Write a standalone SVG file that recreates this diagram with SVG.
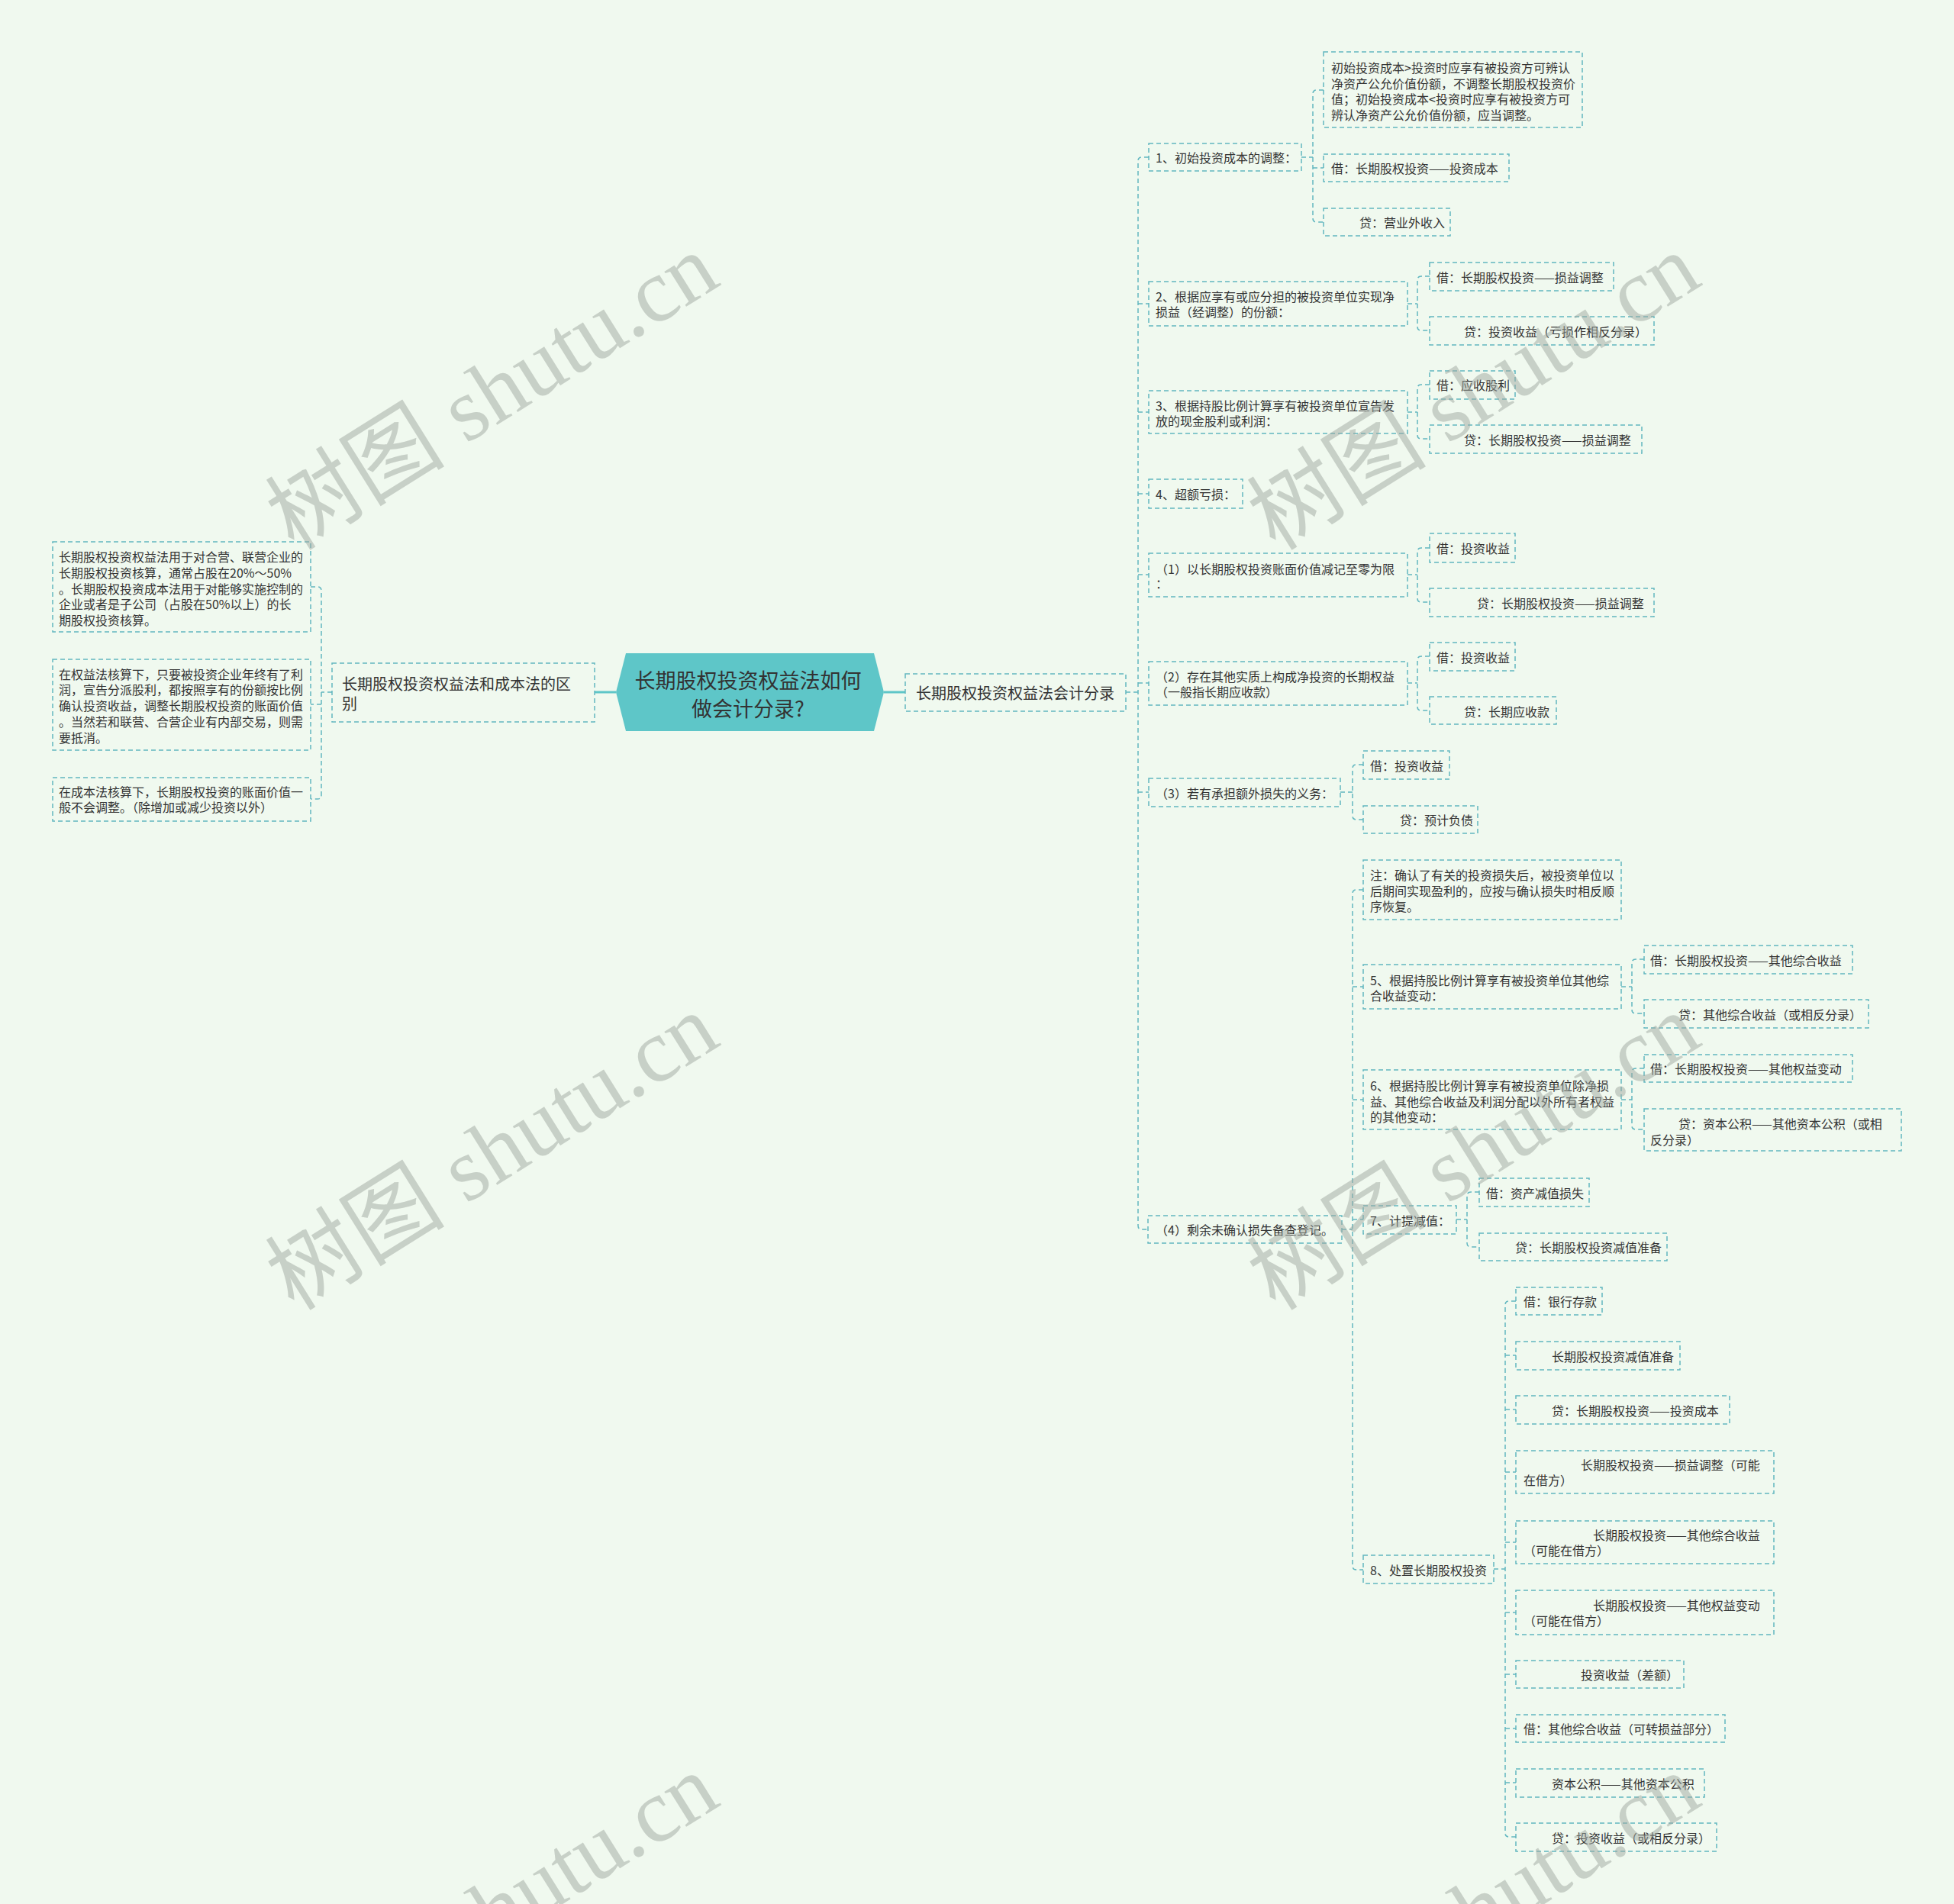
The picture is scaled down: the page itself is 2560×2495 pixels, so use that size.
<svg xmlns="http://www.w3.org/2000/svg" width="2560" height="2495" viewBox="0 0 2560 2495">
<style>
.box{fill:none;stroke:#62b7c0;stroke-width:1.5;stroke-dasharray:6 4}
.conn{fill:none;stroke:#62b7c0;stroke-width:1.5;stroke-dasharray:6 4}
.solid{fill:none;stroke:#5ec6c8;stroke-width:3}
.t{font-family:"Noto Sans CJK SC","Noto Sans",sans-serif;font-size:16px;fill:#333;dominant-baseline:central}
.t20{font-family:"Noto Sans CJK SC","Noto Sans",sans-serif;font-size:20px;fill:#333;dominant-baseline:central}
.root{font-family:"Noto Sans CJK SC","Noto Sans",sans-serif;font-size:27px;fill:#333;dominant-baseline:central;text-anchor:middle}
.wm{font-family:"Liberation Serif","Noto Sans CJK SC",serif;font-size:118px;fill:#a0a8a0;opacity:0.5;text-anchor:middle;dominant-baseline:central}
</style>
<rect x="0" y="0" width="2560" height="2495" fill="#f0f9ef"/>

<g id="connectors">
<path class="solid" d="M779,907 H807 M1158,907 H1186"/>
<path class="conn" d="M435,907 H421 M407,769 H416 Q421,769 421,774 V1042 Q421,1047 416,1047 H407 M421,923 H407"/>
<path class="conn" d="M1475,907 H1491 M1505,206 H1496 Q1491,206 1491,211 V1606 Q1491,1611 1496,1611 H1504 M1491,398 H1505 M1491,540 H1505 M1491,647 H1505 M1491,753 H1505 M1491,895 H1505 M1491,1038 H1505"/>
<path class="conn" d="M1705,206 H1720 M1734,118 H1725 Q1720,118 1720,123 V286 Q1720,291 1725,291 H1734 M1720,220 H1734"/>
<path class="conn" d="M1844,398 H1857 M1873,362 H1862 Q1857,362 1857,367 V428 Q1857,433 1862,433 H1873"/>
<path class="conn" d="M1844,540 H1857 M1873,504 H1862 Q1857,504 1857,509 V570 Q1857,575 1862,575 H1873"/>
<path class="conn" d="M1844,753 H1857 M1873,718 H1862 Q1857,718 1857,723 V784 Q1857,789 1862,789 H1873"/>
<path class="conn" d="M1844,895 H1857 M1873,860 H1862 Q1857,860 1857,865 V926 Q1857,931 1862,931 H1873"/>
<path class="conn" d="M1756,1038 H1772 M1786,1002 H1777 Q1772,1002 1772,1007 V1069 Q1772,1074 1777,1074 H1786"/>
<path class="conn" d="M1758,1611 H1772 M1786,1166 H1777 Q1772,1166 1772,1171 V2052 Q1772,2057 1777,2057 H1786 M1772,1293 H1786 M1772,1441 H1786 M1772,1598 H1786"/>
<path class="conn" d="M2124,1293 H2138 M2154,1257 H2143 Q2138,1257 2138,1262 V1323 Q2138,1328 2143,1328 H2154"/>
<path class="conn" d="M2124,1441 H2138 M2154,1400 H2143 Q2138,1400 2138,1405 V1475 Q2138,1480 2143,1480 H2154"/>
<path class="conn" d="M1908,1598 H1922 M1938,1562 H1927 Q1922,1562 1922,1567 V1629 Q1922,1634 1927,1634 H1938"/>
<path class="conn" d="M1957,2056 H1972 M1986,1705 H1977 Q1972,1705 1972,1710 V2402 Q1972,2407 1977,2407 H1986 M1972,1776 H1986 M1972,1847 H1986 M1972,1929 H1986 M1972,2021 H1986 M1972,2113 H1986 M1972,2194 H1986 M1972,2265 H1986 M1972,2336 H1986"/>
</g>

<g id="root">
<polygon points="807,907 820,856 1145,856 1158,907 1145,958 820,958" fill="#5ec6c8"/>
<text class="root" x="980" y="890">长期股权投资权益法如何</text>
<text class="root" x="980" y="927">做会计分录?</text>
</g>

<g id="b-left">
<rect class="box" x="435" y="869" width="344" height="77"/>
<text class="t20" x="448" y="895">长期股权投资权益法和成本法的区</text>
<text class="t20" x="448" y="921">别</text>
</g>
<g id="b-right">
<rect class="box" x="1186" y="883" width="289" height="49"/>
<text class="t20" x="1200" y="907">长期股权投资权益法会计分录</text>
</g>

<g id="ll1">
<rect class="box" x="69" y="710" width="338" height="118"/>
<text class="t" x="77" y="729">长期股权投资权益法用于对合营、联营企业的</text>
<text class="t" x="77" y="750">长期股权投资核算，通常占股在20%～50%</text>
<text class="t" x="77" y="771">。长期股权投资成本法用于对能够实施控制的</text>
<text class="t" x="77" y="791">企业或者是子公司（占股在50%以上）的长</text>
<text class="t" x="77" y="812">期股权投资核算。</text>
</g>
<g id="ll2">
<rect class="box" x="69" y="864" width="338" height="119"/>
<text class="t" x="77" y="883">在权益法核算下，只要被投资企业年终有了利</text>
<text class="t" x="77" y="903">润，宣告分派股利，都按照享有的份额按比例</text>
<text class="t" x="77" y="924">确认投资收益，调整长期股权投资的账面价值</text>
<text class="t" x="77" y="945">。当然若和联营、合营企业有内部交易，则需</text>
<text class="t" x="77" y="966">要抵消。</text>
</g>
<g id="ll3">
<rect class="box" x="69" y="1019" width="338" height="57"/>
<text class="t" x="77" y="1037">在成本法核算下，长期股权投资的账面价值一</text>
<text class="t" x="77" y="1057">般不会调整。（除增加或减少投资以外）</text>
</g>

<g id="r1">
<rect class="box" x="1505" y="188" width="200" height="36"/>
<text class="t" x="1514" y="206">1、初始投资成本的调整：</text>
</g>
<g id="r1a">
<rect class="box" x="1734" y="68" width="339" height="99"/>
<text class="t" x="1744" y="88">初始投资成本&gt;投资时应享有被投资方可辨认</text>
<text class="t" x="1744" y="108.5">净资产公允价值份额，不调整长期股权投资价</text>
<text class="t" x="1744" y="129">值；初始投资成本&lt;投资时应享有被投资方可</text>
<text class="t" x="1744" y="149.5">辨认净资产公允价值份额，应当调整。</text>
</g>
<g id="r1b">
<rect class="box" x="1734" y="202" width="243" height="36"/>
<text class="t" x="1744" y="220">借：长期股权投资——投资成本</text>
</g>
<g id="r1c">
<rect class="box" x="1734" y="273" width="166" height="36"/>
<text class="t" x="1781" y="291">贷：营业外收入</text>
</g>

<g id="r2">
<rect class="box" x="1505" y="369" width="339" height="58"/>
<text class="t" x="1514" y="388">2、根据应享有或应分担的被投资单位实现净</text>
<text class="t" x="1514" y="408">损益（经调整）的份额：</text>
</g>
<g id="r2a">
<rect class="box" x="1873" y="344" width="241" height="37"/>
<text class="t" x="1882" y="363">借：长期股权投资——损益调整</text>
</g>
<g id="r2b">
<rect class="box" x="1873" y="415" width="294" height="37"/>
<text class="t" x="1918" y="434">贷：投资收益（亏损作相反分录）</text>
</g>

<g id="r3">
<rect class="box" x="1505" y="512" width="339" height="56"/>
<text class="t" x="1514" y="531">3、根据持股比例计算享有被投资单位宣告发</text>
<text class="t" x="1514" y="551">放的现金股利或利润：</text>
</g>
<g id="r3a">
<rect class="box" x="1873" y="486" width="112" height="37"/>
<text class="t" x="1882" y="504">借：应收股利</text>
</g>
<g id="r3b">
<rect class="box" x="1873" y="557" width="278" height="37"/>
<text class="t" x="1918" y="576">贷：长期股权投资——损益调整</text>
</g>

<g id="r4">
<rect class="box" x="1505" y="628" width="123" height="38"/>
<text class="t" x="1514" y="647">4、超额亏损：</text>
</g>

<g id="r5">
<rect class="box" x="1505" y="725" width="339" height="57"/>
<text class="t" x="1514" y="745">（1）以长期股权投资账面价值减记至零为限</text>
<text class="t" x="1514" y="764">：</text>
</g>
<g id="r5a">
<rect class="box" x="1873" y="699" width="112" height="38"/>
<text class="t" x="1882" y="718">借：投资收益</text>
</g>
<g id="r5b">
<rect class="box" x="1873" y="771" width="294" height="37"/>
<text class="t" x="1935" y="790">贷：长期股权投资——损益调整</text>
</g>

<g id="r6">
<rect class="box" x="1505" y="867" width="339" height="57"/>
<text class="t" x="1514" y="886">（2）存在其他实质上构成净投资的长期权益</text>
<text class="t" x="1514" y="906">（一般指长期应收款）</text>
</g>
<g id="r6a">
<rect class="box" x="1873" y="842" width="112" height="37"/>
<text class="t" x="1882" y="861">借：投资收益</text>
</g>
<g id="r6b">
<rect class="box" x="1873" y="913" width="166" height="36"/>
<text class="t" x="1918" y="932">贷：长期应收款</text>
</g>

<g id="r7">
<rect class="box" x="1505" y="1020" width="251" height="37"/>
<text class="t" x="1514" y="1039">（3）若有承担额外损失的义务：</text>
</g>
<g id="r7a">
<rect class="box" x="1786" y="984" width="113" height="37"/>
<text class="t" x="1795" y="1003">借：投资收益</text>
</g>
<g id="r7b">
<rect class="box" x="1786" y="1056" width="150" height="36"/>
<text class="t" x="1834" y="1074">贷：预计负债</text>
</g>

<g id="r8">
<rect class="box" x="1504" y="1593" width="254" height="36"/>
<text class="t" x="1514" y="1611">（4）剩余未确认损失备查登记。</text>
</g>
<g id="n1">
<rect class="box" x="1786" y="1127" width="338" height="78"/>
<text class="t" x="1795" y="1146">注：确认了有关的投资损失后，被投资单位以</text>
<text class="t" x="1795" y="1167">后期间实现盈利的，应按与确认损失时相反顺</text>
<text class="t" x="1795" y="1187">序恢复。</text>
</g>
<g id="n5">
<rect class="box" x="1786" y="1264" width="338" height="58"/>
<text class="t" x="1795" y="1284">5、根据持股比例计算享有被投资单位其他综</text>
<text class="t" x="1795" y="1304">合收益变动：</text>
</g>
<g id="n5a">
<rect class="box" x="2154" y="1239" width="273" height="37"/>
<text class="t" x="2162" y="1258">借：长期股权投资——其他综合收益</text>
</g>
<g id="n5b">
<rect class="box" x="2154" y="1310" width="294" height="37"/>
<text class="t" x="2199" y="1329">贷：其他综合收益（或相反分录）</text>
</g>
<g id="n6">
<rect class="box" x="1786" y="1402" width="338" height="78"/>
<text class="t" x="1795" y="1422">6、根据持股比例计算享有被投资单位除净损</text>
<text class="t" x="1795" y="1443">益、其他综合收益及利润分配以外所有者权益</text>
<text class="t" x="1795" y="1463">的其他变动：</text>
</g>
<g id="n6a">
<rect class="box" x="2154" y="1382" width="273" height="36"/>
<text class="t" x="2162" y="1400">借：长期股权投资——其他权益变动</text>
</g>
<g id="n6b">
<rect class="box" x="2154" y="1453" width="337" height="55"/>
<text class="t" x="2199" y="1472">贷：资本公积——其他资本公积（或相</text>
<text class="t" x="2162" y="1493">反分录）</text>
</g>
<g id="n7">
<rect class="box" x="1786" y="1580" width="122" height="37"/>
<text class="t" x="1795" y="1599">7、计提减值：</text>
</g>
<g id="n7a">
<rect class="box" x="1938" y="1544" width="144" height="37"/>
<text class="t" x="1947" y="1563">借：资产减值损失</text>
</g>
<g id="n7b">
<rect class="box" x="1938" y="1616" width="246" height="36"/>
<text class="t" x="1985" y="1634">贷：长期股权投资减值准备</text>
</g>
<g id="n8">
<rect class="box" x="1786" y="2038" width="171" height="37"/>
<text class="t" x="1795" y="2057">8、处置长期股权投资</text>
</g>
<g id="n8a">
<rect class="box" x="1986" y="1687" width="113" height="36"/>
<text class="t" x="1996" y="1705">借：银行存款</text>
</g>
<g id="n8b">
<rect class="box" x="1986" y="1758" width="215" height="37"/>
<text class="t" x="2033" y="1777">长期股权投资减值准备</text>
</g>
<g id="n8c">
<rect class="box" x="1986" y="1829" width="280" height="37"/>
<text class="t" x="2033" y="1848">贷：长期股权投资——投资成本</text>
</g>
<g id="n8d">
<rect class="box" x="1986" y="1901" width="338" height="56"/>
<text class="t" x="2071" y="1919">长期股权投资——损益调整（可能</text>
<text class="t" x="1996" y="1939">在借方）</text>
</g>
<g id="n8e">
<rect class="box" x="1986" y="1993" width="338" height="56"/>
<text class="t" x="2087" y="2011">长期股权投资——其他综合收益</text>
<text class="t" x="1996" y="2031">（可能在借方）</text>
</g>
<g id="n8f">
<rect class="box" x="1986" y="2084" width="338" height="58"/>
<text class="t" x="2087" y="2103">长期股权投资——其他权益变动</text>
<text class="t" x="1996" y="2123">（可能在借方）</text>
</g>
<g id="n8g">
<rect class="box" x="1986" y="2176" width="220" height="36"/>
<text class="t" x="2071" y="2194">投资收益（差额）</text>
</g>
<g id="n8h">
<rect class="box" x="1986" y="2247" width="274" height="36"/>
<text class="t" x="1996" y="2265">借：其他综合收益（可转损益部分）</text>
</g>
<g id="n8i">
<rect class="box" x="1986" y="2318" width="247" height="37"/>
<text class="t" x="2033" y="2337">资本公积——其他资本公积</text>
</g>
<g id="n8j">
<rect class="box" x="1986" y="2389" width="263" height="37"/>
<text class="t" x="2033" y="2408">贷：投资收益（或相反分录）</text>
</g>

<g id="watermarks">
<text class="wm" transform="translate(645,514) rotate(-32)">树图 shutu.cn</text>
<text class="wm" transform="translate(1931,514) rotate(-32)">树图 shutu.cn</text>
<text class="wm" transform="translate(645,1510) rotate(-32)">树图 shutu.cn</text>
<text class="wm" transform="translate(1931,1510) rotate(-32)">树图 shutu.cn</text>
<text class="wm" transform="translate(645,2506) rotate(-32)">树图 shutu.cn</text>
<text class="wm" transform="translate(1931,2506) rotate(-32)">树图 shutu.cn</text>
</g>
</svg>
